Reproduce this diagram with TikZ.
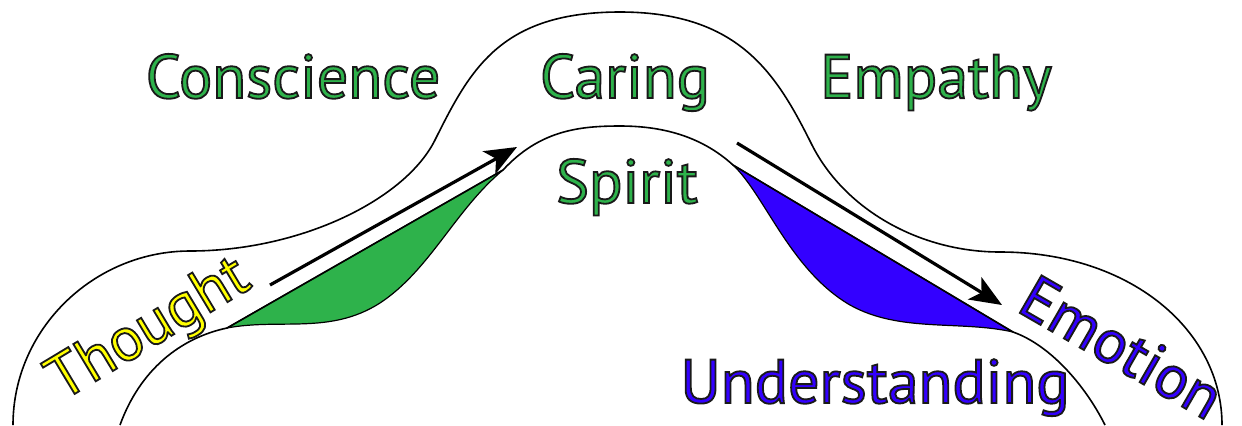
\documentclass[tikz,border=0pt]{standalone}
\usepackage{fontspec}
\setmainfont{PT Sans}
\usetikzlibrary{arrows.meta}
\definecolor{lifegreen}{RGB}{46,178,75}
\definecolor{feelblue}{RGB}{51,0,255}
\definecolor{thinkyellow}{RGB}{255,255,0}
\newcommand{\wordfont}{\fontsize{31}{36}\selectfont}
% fill and stroke the glyphs: coloured inside, dark rim
\newcommand{\outlined}[1]{%
  \special{pdf:literal direct 2 Tr 0.9 w 0.1 0.1 0.1 RG}#1\special{pdf:literal direct 0 Tr}}

\begin{document}
\begin{tikzpicture}[
  x=0.5pt,y=-0.5pt,
  band/.style={draw,line width=0.8pt},
  lobe/.style={draw,line width=0.6pt},
  flow/.style={
    -{Stealth[length=16pt,width=13pt,inset=4pt]},
    line width=1.6pt
  },
  word/.style={font=\wordfont,inner sep=0pt},
  gword/.style={word,text=lifegreen},
  bword/.style={word,text=feelblue},
  yword/.style={word,text=thinkyellow}
]
\useasboundingbox (0,0) rectangle (1242,425);

% ---- filled lobes under the inner band ----
\path[lobe,fill=lifegreen]
  (227,328) .. controls (280,318) and (330,335) .. (380,303)
  .. controls (430,270) and (455,210) .. (503,170) -- cycle;
\path[lobe,fill=feelblue]
  (733,165) .. controls (765,195) and (790,270) .. (850,305)
  .. controls (900,333) and (960,320) .. (1013,332) -- cycle;

% ---- outer band ----
\draw[band]
  (13,425) .. controls (13,329) and (94,251) .. (190,251)
  .. controls (300,251) and (405,200) .. (435,140)
  .. controls (470,70) and (500,12) .. (620,12)
  .. controls (740,12) and (777,75) .. (812,145)
  .. controls (845,210) and (920,252) .. (1000,252)
  .. controls (1130,252) and (1222,330) .. (1222,425);

% ---- inner band ----
\draw[band]
  (120,425) .. controls (140,370) and (180,338) .. (227,328)
  -- (503,170)
  .. controls (540,130) and (580,126) .. (620,126)
  .. controls (660,126) and (700,135) .. (733,165)
  -- (1013,332)
  .. controls (1050,345) and (1085,385) .. (1105,425);

% ---- arrows ----
\coordinate (up0) at (270,285);
\coordinate (up1) at (517,147);
\coordinate (dn0) at (737,143);
\coordinate (dn1) at (1002,305);
\draw[flow] (up0) -- (up1);
\draw[flow] (dn0) -- (dn1);

% ---- words ----
\node[gword,anchor=base] (conscience) at (293,98)  {\outlined{Conscience}};
\node[gword,anchor=base] (caring)     at (625,98)  {\outlined{Caring}};
\node[gword,anchor=base] (empathy)    at (936,98)  {\outlined{Empathy}};
\node[gword,anchor=base] (spirit)     at (627,203) {\outlined{Spirit}};
\node[bword,anchor=base] (understanding) at (875,403) {\outlined{Understanding}};
\node[yword,rotate=31] (thought) at (150,331) {\outlined{Thought}};
\node[bword,rotate=-30] (emotion) at (1122,347) {\outlined{Emotion}};

\end{tikzpicture}
\end{document}
